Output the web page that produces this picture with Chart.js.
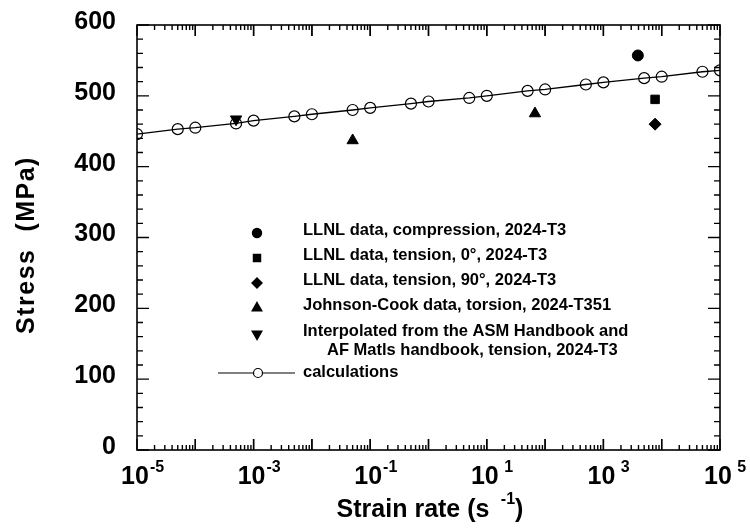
<!DOCTYPE html>
<html>
<head>
<meta charset="utf-8">
<script src="https://cdn.jsdelivr.net/npm/chart.js@4.4.1/dist/chart.umd.min.js"></script>
<style>
  html, body { margin: 0; padding: 0; background: #fff; }
  #wrap { width: 750px; height: 528px; }
</style>
</head>
<body>
<div id="wrap"><canvas id="stressChart" width="750" height="528"></canvas></div>
<script>
// ------------------------
// Data
// ------------------------

const calcRate = [1e-5, 5e-5, 1e-4, 5e-4, 1e-3, 5e-3, 1e-2, 5e-2, 0.1, 0.5, 1, 5, 10, 50, 100, 500, 1e3, 5e3, 1e4, 5e4, 1e5];
const calcStress = [446, 453, 455, 461, 465, 471, 474, 480, 483, 489, 492, 497, 500, 507, 509, 516, 519, 525, 527, 534, 536];

const compRate = [3900];
const compStress = [557];

const tens0Rate = [7700];
const tens0Stress = [495];

const tens90Rate = [7700];
const tens90Stress = [460];

const jcRate = [0.05, 67];
const jcStress = [437, 475];

const asmRate = [5e-4];
const asmStress = [467];

const yTicks = [0, 100, 200, 300, 400, 500, 600];
const xTickExps = [-5, -3, -1, 1, 3, 5];

const legendLabels = [
    "LLNL data, compression, 2024-T3",
    "LLNL data, tension, 0\u00b0, 2024-T3",
    "LLNL data, tension, 90\u00b0, 2024-T3",
    "Johnson-Cook data, torsion, 2024-T351",
    "Interpolated from the ASM Handbook and",
    "calculations"
];

const toPts = (xs, ys) => xs.map((x, i) => ({ x: x, y: ys[i] }));

const FONT = "'Liberation Sans', Arial, Helvetica, sans-serif";

// ------------------------
// Frame, ticks, labels, legend
// ------------------------

const framePlugin = {
    id: "frame",
    afterDraw(chart) {
        const ctx = chart.ctx;
        const a = chart.chartArea;
        const xs = chart.scales.x;
        const ys = chart.scales.y;

        ctx.save();
        ctx.strokeStyle = "#000";
        ctx.fillStyle = "#000";

        // box
        ctx.lineWidth = 1.6;
        ctx.strokeRect(a.left, a.top, a.right - a.left, a.bottom - a.top);

        // y ticks (inside, both sides)
        ctx.lineWidth = 1.4;
        for (let v = 0; v <= 600; v += 20) {
            const py = ys.getPixelForValue(v);
            const len = v % 100 === 0 ? 12 : 6;
            ctx.beginPath();
            ctx.moveTo(a.left, py); ctx.lineTo(a.left + len, py);
            ctx.moveTo(a.right, py); ctx.lineTo(a.right - len, py);
            ctx.stroke();
        }

        // x ticks (inside, top and bottom)
        for (let d = -5; d <= 4; d++) {
            for (let m = 1; m <= 10; m++) {
                const px = xs.getPixelForValue(m * Math.pow(10, d));
                const len = (m === 1 || m === 10) ? 11 : 5;
                ctx.beginPath();
                ctx.moveTo(px, a.bottom); ctx.lineTo(px, a.bottom - len);
                ctx.moveTo(px, a.top); ctx.lineTo(px, a.top + len);
                ctx.stroke();
            }
        }

        // y tick labels
        ctx.font = "bold 25px " + FONT;
        ctx.textAlign = "right";
        ctx.textBaseline = "middle";
        yTicks.forEach(v => {
            ctx.fillText(String(v), a.left - 21, ys.getPixelForValue(v) - 3);
        });

        // x tick labels with superscripts
        xTickExps.forEach(e => {
            const px = xs.getPixelForValue(Math.pow(10, e));
            ctx.font = "bold 25px " + FONT;
            ctx.textAlign = "center";
            ctx.textBaseline = "alphabetic";
            ctx.fillText("10", px - 2, 484);
            const w = ctx.measureText("10").width;
            ctx.font = "bold 16px " + FONT;
            ctx.textAlign = "left";
            ctx.fillText(e < 0 ? "-" + (-e) : " " + e, px - 2 + w / 2 + 1, 472);
        });

        // axis titles
        ctx.font = "bold 25px " + FONT;
        ctx.textAlign = "left";
        ctx.textBaseline = "alphabetic";
        const t1 = "Strain rate (s ";
        const w1 = ctx.measureText(t1).width;
        ctx.font = "bold 16px " + FONT;
        const wSup = ctx.measureText(" -1").width;
        ctx.font = "bold 25px " + FONT;
        const wEnd = ctx.measureText(")").width;
        const startX = 430 - (w1 + wSup + wEnd) / 2;
        ctx.fillText(t1, startX, 517);
        ctx.font = "bold 16px " + FONT;
        ctx.fillText(" -1", startX + w1, 504);
        ctx.font = "bold 25px " + FONT;
        ctx.fillText(")", startX + w1 + wSup, 517);

        ctx.save();
        ctx.translate(34, 245);
        ctx.rotate(-Math.PI / 2);
        ctx.textAlign = "center";
        ctx.font = "bold 25px " + FONT;
        ctx.letterSpacing = "1.5px";
        ctx.fillText("Stress  (MPa)", 0, 0);
        ctx.restore();

        // legend
        const styles = chart.data.datasets;
        const order = [1, 2, 3, 4, 5];
        const rowY = [233, 258, 283, 308, 334];
        ctx.font = "bold 16.5px " + FONT;
        ctx.textAlign = "left";
        ctx.textBaseline = "middle";
        order.forEach((di, i) => {
            const ds = styles[di];
            Chart.helpers.drawPoint(ctx, {
                pointStyle: ds.pointStyle,
                radius: ds.pointRadius - 1,
                rotation: ds.rotation || 0,
                borderWidth: 1
            }, 257, rowY[i]);
            ctx.fillStyle = "#000";
            ctx.fillText(legendLabels[i], 303, rowY[i] - 3);
        });
        ctx.fillText("AF Matls handbook, tension, 2024-T3", 327, 350);

        ctx.lineWidth = 1;
        ctx.beginPath();
        ctx.moveTo(218, 373); ctx.lineTo(295, 373);
        ctx.stroke();
        ctx.fillStyle = "#fff";
        ctx.beginPath();
        ctx.arc(258, 373, 4.5, 0, Math.PI * 2);
        ctx.fill();
        ctx.lineWidth = 1.2;
        ctx.stroke();
        ctx.fillStyle = "#000";
        ctx.fillText(legendLabels[5], 303, 372);

        ctx.restore();
    }
};

// ------------------------
// Chart
// ------------------------

const filled = (label, xs, ys, style, r, rot) => ({
    type: "scatter",
    label: label,
    data: toPts(xs, ys),
    pointStyle: style,
    pointRadius: r,
    rotation: rot || 0,
    backgroundColor: "#000",
    borderColor: "#000",
    borderWidth: 1
});

new Chart(document.getElementById("stressChart"), {
    type: "scatter",
    data: {
        datasets: [
            {
                type: "line",
                label: "calculations",
                data: toPts(calcRate, calcStress),
                borderColor: "#000",
                borderWidth: 1.3,
                pointStyle: "circle",
                pointRadius: 5.5,
                pointBorderWidth: 1.2,
                pointBackgroundColor: "rgba(0,0,0,0)",
                pointBorderColor: "#000",
                fill: false,
                tension: 0
            },
            filled("LLNL compression", compRate, compStress, "circle", 5.5),
            filled("LLNL tension 0", tens0Rate, tens0Stress, "rect", 6),
            filled("LLNL tension 90", tens90Rate, tens90Stress, "rectRot", 6),
            filled("Johnson-Cook", jcRate, jcStress, "triangle", 6.5),
            filled("ASM Handbook", asmRate, asmStress, "triangle", 6.5, 180)
        ]
    },
    options: {
        responsive: false,
        animation: false,
        layout: { padding: { left: 137, right: 30, top: 25, bottom: 78 } },
        plugins: {
            legend: { display: false },
            tooltip: { enabled: false }
        },
        scales: {
            x: { type: "logarithmic", min: 1e-5, max: 1e5, display: false },
            y: { type: "linear", min: 0, max: 600, display: false }
        }
    },
    plugins: [framePlugin]
});
</script>
</body>
</html>
